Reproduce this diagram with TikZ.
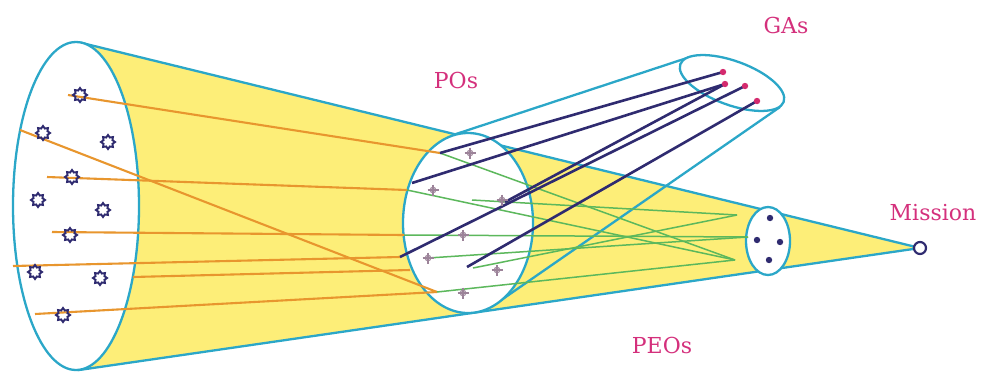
\documentclass[tikz,border=0pt]{standalone}
\usepackage{fontspec}
\newfontfamily\labelfont{DejaVu Serif}
\usepackage{tikz}
\usetikzlibrary{shapes.geometric}
\definecolor{conecyan}{HTML}{2BA7C8}
\definecolor{coneyellow}{HTML}{FDEE78}
\definecolor{markgrey}{HTML}{9C8399}
\definecolor{ganavy}{HTML}{2F2B70}
\definecolor{peogreen}{HTML}{5CB85C}
\definecolor{beamorange}{HTML}{E8962E}
\definecolor{tagpink}{HTML}{D4307C}
\definecolor{gadot}{HTML}{D42A6E}

\begin{document}
\begin{tikzpicture}[x=1pt, y=-1pt,
    rim/.style={draw=conecyan, line width=2.3pt},
    beam/.style={draw=beamorange, line width=2.1pt},
    link/.style={draw=peogreen, line width=1.5pt},
    goal/.style={draw=ganavy, line width=2.6pt},
    gear/.style={star, star points=8, star point ratio=1.45, minimum size=14pt, inner sep=0pt, draw=ganavy, line width=1.9pt},
    tagtext/.style={text=tagpink, font=\labelfont\fontsize{22}{26}\selectfont}
  ]
  \useasboundingbox (0,0) rectangle (982,373);
  \coordinate (mission) at (920,248);
  % cone from the vision to the mission
  \filldraw[rim, fill=coneyellow] (82,43) -- (mission) -- (79,370) -- cycle;
  % GA cylinder
  \draw[rim] (453,135) -- (690,57);
  \draw[rim] (497,303) -- (780,107);
  % cross sections
  \draw[rim, fill=white] (76,206) ellipse [x radius=63pt, y radius=164pt];
  \draw[rim, fill=white] (468,223) ellipse [x radius=65pt, y radius=90pt];
  \draw[rim, fill=white] (768,241) ellipse [x radius=22pt, y radius=34pt];
  \draw[rim, fill=white, rotate around={-20:(732,83)}] (732,83) ellipse [x radius=55pt, y radius=22pt];

  % points
  \foreach \n/\x/\y in {1/68/95, 2/20/130, 3/47/177, 4/52/232, 5/13/266, 6/133/277, 7/35/314}
    \coordinate (v\n) at (\x,\y);
  \foreach \n/\x/\y in {a/440/153, b/407/190, c/404/235, d/400/257, e/410/270, f/437/292,
                        g/412/183, h/505/202, i/467/267, j/472/200, k/428/258, l/473/268}
    \coordinate (p\n) at (\x,\y);
  \foreach \n/\x/\y in {1/723/72, 2/725/84, 3/745/86, 4/757/101}
    \coordinate (ga\n) at (\x,\y);
  \coordinate (up) at (737,215);
  \coordinate (mid) at (748,237);
  \coordinate (low) at (735,260);

  % vision to POs
  \draw[beam] (v1) -- (pa);
  \draw[beam] (v2) -- (pf);
  \draw[beam] (v3) -- (pb);
  \draw[beam] (v4) -- (pc);
  \draw[beam] (v5) -- (pd);
  \draw[beam] (v6) -- (pe);
  \draw[beam] (v7) -- (pf);
  % POs to PEOs
  \draw[link] (pa) -- (low);
  \draw[link] (pb) -- (low);
  \draw[link] (pj) -- (up);
  \draw[link] (pc) -- (mid);
  \draw[link] (pk) -- (mid);
  \draw[link] (pl) -- (up);
  \draw[link] (pf) -- (low);
  % POs to GAs
  \draw[goal] (pa) -- (ga1);
  \draw[goal] (pg) -- (ga2);
  \draw[goal] (pd) -- (ga3);
  \draw[goal] (ph) -- (ga2);
  \draw[goal] (pi) -- (ga4);

  \foreach \x/\y in {80/95, 43/133, 108/142, 72/177, 38/200, 103/210, 70/235, 35/272, 100/278, 63/315}
    \node[gear] at (\x,\y) {};
  \foreach \x/\y in {470/153, 433/190, 502/200, 463/235, 428/258, 497/270, 463/293} {
    \draw[markgrey, line width=1.4pt] (\x,\y) ++(-5.5,0) -- ++(11,0) (\x,\y) ++(0,-5.5) -- ++(0,11);
    \draw[markgrey, line width=1pt] (\x,\y) circle (2.8pt);
  }
  \foreach \n in {1,...,4}
    \fill[gadot] (ga\n) circle (3.2pt);
  \foreach \x/\y in {770/218, 757/240, 780/242, 769/260}
    \fill[ganavy] (\x,\y) circle (3.2pt);
  \node[circle, draw=ganavy, fill=white, line width=2.2pt, minimum size=12pt, inner sep=0pt] (goalpt) at (mission) {};

  \node[tagtext] (polabel) at (456,80) {POs};
  \node[tagtext] (galabel) at (786,25) {GAs};
  \node[tagtext] (peolabel) at (662,345) {PEOs};
  \node[tagtext] (mlabel) at (933,213) {Mission};
\end{tikzpicture}
\end{document}
